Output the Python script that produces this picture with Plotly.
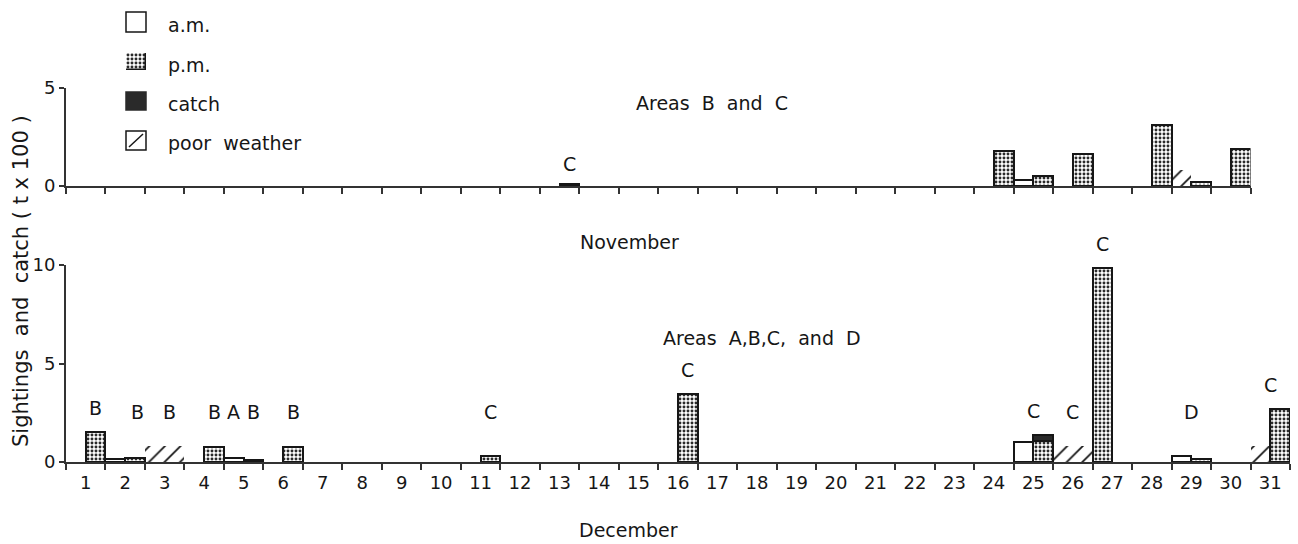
import plotly.graph_objects as go

FONT = "DejaVu Sans"
INK = "#161616"
AXIS = "#333333"

# ---- November, areas B and C (sightings, t x 100) ----
nov_am_days = [25]
nov_am_vals = [0.3]
nov_pm_days = [13, 24, 25, 26, 28, 29, 30]
nov_pm_vals = [0.1, 1.8, 0.5, 1.65, 3.1, 0.2, 1.9]
nov_poor_weather = [(29, "am")]
nov_area_labels = [(13.25, "C")]

# ---- December, areas A, B, C and D ----
dec_am_days = [2, 5, 25, 29]
dec_am_vals = [0.15, 0.2, 1.0, 0.3]
dec_pm_days = [1, 2, 4, 5, 6, 11, 16, 25, 27, 29, 31]
dec_pm_vals = [1.5, 0.2, 0.75, 0.12, 0.75, 0.3, 3.45, 1.35, 9.85, 0.15, 2.7]
dec_catch_days = [25]
dec_catch_vals = [0.3]
dec_poor_weather = [(3, "am"), (3, "pm"), (26, "am"), (26, "pm"), (31, "am")]
dec_area_labels = [(1.25, "B"), (2.32, "B"), (3.13, "B"), (4.25, "B"), (4.75, "A"),
                   (5.25, "B"), (6.25, "B"), (11.25, "C"), (16.25, "C"), (25.0, "C"),
                   (26.0, "C"), (26.75, "C"), (29.0, "D"), (31.0, "C")]

# the 27 December p.m. bar sits in the first half of the day on the sheet
PM_SLOT_SHIFT = {27: -0.5}

HALF = 0.5
OFFSET = {"am": -0.5, "pm": 0.0}
HATCH_HEIGHT = 0.8

STIPPLE = dict(shape=".", fgcolor="#2a2a2a", bgcolor="white", size=4, solidity=0.42,
               fgopacity=1, fillmode="replace")
HATCH = dict(shape="/", fgcolor="#111111", bgcolor="rgba(255,255,255,0)", size=11, solidity=0.16,
             fgopacity=1, fillmode="replace")
OUTLINE = dict(color=INK, width=2)

fig = go.Figure()


def add_panel(xa, ya, am_d, am_v, pm_d, pm_v, poor, catch_d=(), catch_v=()):
    fig.add_trace(go.Bar(x=am_d, y=am_v, width=HALF, offset=OFFSET["am"],
                         marker=dict(color="white", line=OUTLINE),
                         xaxis=xa, yaxis=ya, cliponaxis=False, showlegend=False))
    fig.add_trace(go.Bar(x=pm_d, y=pm_v, width=HALF,
                         offset=[OFFSET["pm"] + PM_SLOT_SHIFT.get(d, 0) for d in pm_d],
                         marker=dict(color="white", line=OUTLINE, pattern=STIPPLE),
                         xaxis=xa, yaxis=ya, cliponaxis=False, showlegend=False))
    if catch_d:
        pm_lookup = dict(zip(pm_d, pm_v))
        fig.add_trace(go.Bar(x=list(catch_d), y=list(catch_v), width=HALF, offset=OFFSET["pm"],
                             base=[pm_lookup[d] - v for d, v in zip(catch_d, catch_v)],
                             marker=dict(color="#2a2a2a", line=OUTLINE),
                             xaxis=xa, yaxis=ya, cliponaxis=False, showlegend=False))
    fig.add_trace(go.Bar(x=[d for d, _ in poor], y=[HATCH_HEIGHT] * len(poor), width=HALF,
                         offset=[OFFSET[h] for _, h in poor],
                         marker=dict(color="#111111", line=dict(width=0), pattern=HATCH),
                         xaxis=xa, yaxis=ya, cliponaxis=False, showlegend=False))


add_panel("x", "y", nov_am_days, nov_am_vals, nov_pm_days, nov_pm_vals, nov_poor_weather)
add_panel("x2", "y2", dec_am_days, dec_am_vals, dec_pm_days, dec_pm_vals, dec_poor_weather,
          dec_catch_days, dec_catch_vals)

# legend key for p.m. (stippled) drawn on its own small axis
fig.add_trace(go.Bar(x=[0.5], y=[1], width=1,
                     marker=dict(color="white", line=dict(color=INK, width=1.5), pattern=STIPPLE),
                     xaxis="x3", yaxis="y3", showlegend=False, cliponaxis=False))

W, H = 1298, 544
ML, MR = 66, 8
PW = W - ML - MR


def px(xp):
    return (xp - ML) / PW


def py(yp):
    return (H - yp) / H


tickfont = dict(family=FONT, size=18, color=INK)

common_x = dict(showline=True, linecolor=AXIS, linewidth=2, showgrid=False, zeroline=False,
                ticks="", mirror=False)
common_y = dict(showline=True, linecolor=AXIS, linewidth=2, showgrid=False, zeroline=False,
                ticks="outside", ticklen=5, tickwidth=2, tickcolor=AXIS, tickfont=tickfont)

fig.update_layout(
    width=W, height=H, plot_bgcolor="white", paper_bgcolor="white",
    margin=dict(l=ML, r=MR, t=0, b=0, autoexpand=False), barmode="overlay", bargap=0,
    font=dict(family=FONT, color=INK),
    xaxis=dict(common_x, domain=[0, 30 / 31], range=[0.5, 30.5], anchor="y",
               tickvals=list(range(1, 31)), showticklabels=False,
               minor=dict(tickvals=[d + 0.5 for d in range(0, 31)], ticks="outside",
                          ticklen=6, tickwidth=2, tickcolor=AXIS, showgrid=False)),
    yaxis=dict(common_y, domain=[py(186), py(88)], range=[0, 5], tickvals=[0, 5], anchor="x"),
    xaxis2=dict(common_x, domain=[0, 1], range=[0.5, 31.5], anchor="y2",
                tickvals=list(range(1, 32)), ticktext=[str(d) for d in range(1, 32)],
                tickfont=tickfont, ticklabelstandoff=3,
                minor=dict(tickvals=[d + 0.5 for d in range(0, 32)], ticks="outside",
                           ticklen=6, tickwidth=2, tickcolor=AXIS, showgrid=False)),
    yaxis2=dict(common_y, domain=[py(462), py(265)], range=[0, 10], tickvals=[0, 5, 10], anchor="x2"),
    xaxis3=dict(domain=[px(126), px(146)], range=[0, 1], visible=False, fixedrange=True),
    yaxis3=dict(domain=[py(70), py(53)], range=[0, 1], visible=False, fixedrange=True, anchor="x3"),
)

annotations = []


def text(x, y, s, size=19, xanchor="center", **kw):
    annotations.append(dict(xref="paper", yref="paper", x=x, y=y, text=s, showarrow=False,
                            xanchor=xanchor, yanchor="middle",
                            font=dict(family=FONT, size=size, color=INK), **kw))


# panel titles and axis titles
text(px(712), py(103), "Areas  B  and  C")
text(px(762), py(338), "Areas  A,B,C,  and  D")
text(px(629), py(242), "November")
text(px(628), py(530), "December")
text(px(21), py(281), "Sightings  and  catch ( t x 100 )", size=21, textangle=-90)

# legend
legend_rows = [("a.m.", 22), ("p.m.", 62), ("catch", 101), ("poor  weather", 140)]
for label, yc in legend_rows:
    text(px(166), py(yc + 3), label, xanchor="left")

shapes = [
    dict(type="rect", xref="paper", yref="paper", x0=px(126), x1=px(146), y0=py(32), y1=py(12),
         line=dict(color=INK, width=1.5), fillcolor="white"),
    dict(type="rect", xref="paper", yref="paper", x0=px(126), x1=px(146), y0=py(110), y1=py(92),
         line=dict(color="#2a2a2a", width=1.5), fillcolor="#2a2a2a"),
    dict(type="rect", xref="paper", yref="paper", x0=px(126), x1=px(146), y0=py(150), y1=py(131),
         line=dict(color=INK, width=1.5), fillcolor="white"),
    dict(type="line", xref="paper", yref="paper", x0=px(129), x1=px(143), y0=py(147), y1=py(134),
         line=dict(color=INK, width=1.5)),
]


# area letters above the bars
def bar_top(xpos, am_d, am_v, pm_d, pm_v):
    tops = [0.0]
    for d, v in zip(am_d, am_v):
        if d - 0.5 <= xpos <= d:
            tops.append(v)
    for d, v in zip(pm_d, pm_v):
        lo = d + PM_SLOT_SHIFT.get(d, 0)
        if lo <= xpos <= lo + 0.5:
            tops.append(v)
    return max(tops)


for xpos, s in nov_area_labels:
    top = bar_top(xpos, nov_am_days, nov_am_vals, nov_pm_days, nov_pm_vals)
    annotations.append(dict(xref="x", yref="y", x=xpos, y=top, yshift=20, text=s, showarrow=False,
                            yanchor="middle", font=dict(family=FONT, size=19, color=INK)))
for xpos, s in dec_area_labels:
    top = bar_top(xpos, dec_am_days, dec_am_vals, dec_pm_days, dec_pm_vals)
    annotations.append(dict(xref="x2", yref="y2", x=xpos, y=max(top, 1.3), yshift=24, text=s,
                            showarrow=False, yanchor="middle",
                            font=dict(family=FONT, size=19, color=INK)))

fig.update_layout(annotations=annotations, shapes=shapes)

fig.write_html("out.html")
